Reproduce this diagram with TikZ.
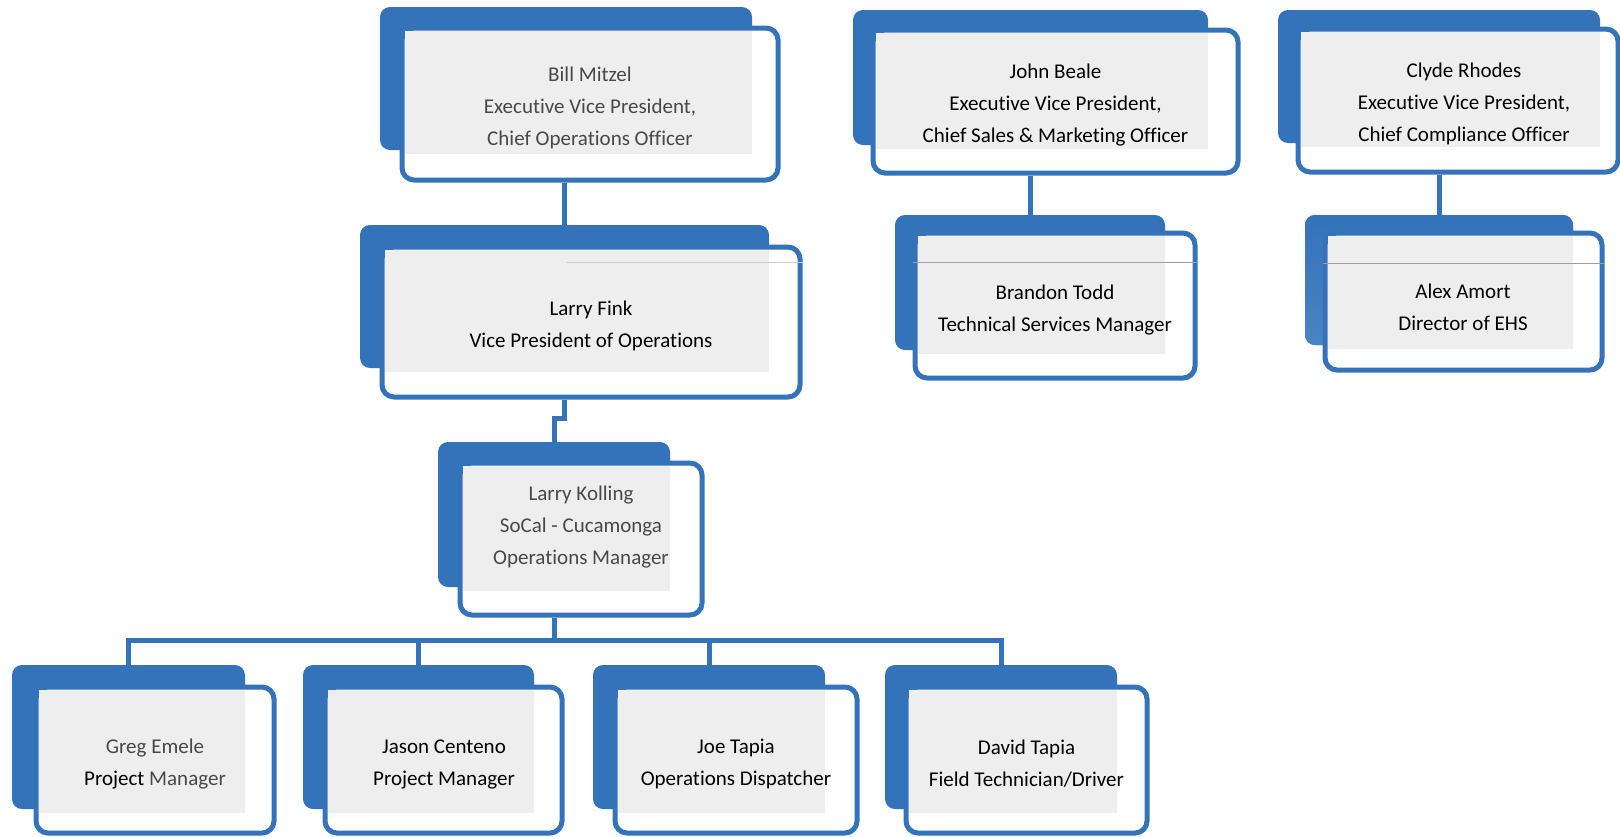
\documentclass[tikz,border=0pt]{standalone}
\usepackage{fontspec}
\setmainfont{Carlito}[Ligatures={NoCommon,NoContextual}]
\usetikzlibrary{fit,calc}
\definecolor{orgblue}{RGB}{52,114,185}
\definecolor{boxgray}{RGB}{238,238,238}
\definecolor{txtgray}{RGB}{72,72,72}
\tikzset{
  backbox/.style={fill=orgblue, draw=none, rounded corners=10pt, inner sep=0pt},
  frontbox/.style={fill=white, draw=orgblue, line width=5pt, rounded corners=12pt, inner sep=0pt},
  txt/.style={align=center, font=\fontsize{21}{32}\selectfont, inner sep=0pt, text=black},
  conn/.style={draw=orgblue, line width=5pt},
  sepline/.style={draw=gray!75, line width=1pt},
}
% #1 extra back style, #2 name, #3 back fit, #4 front fit, #5 text position, #6 text
\newcommand\orgcard[6][]{%
  \node[backbox, fit={#3}, #1] (#2B) {};
  \node[frontbox, fit={#4}] (#2) {};
  \fill[boxgray] ($(#2.north west)+(5,5)$) rectangle ($(#2B.south east)+(0,4)$);
  \node[txt] (#2T) at #5 {#6};
}
\begin{document}
\begin{tikzpicture}[x=1pt, y=-1pt]
\useasboundingbox (0,0) rectangle (1620,836);

\orgcard{bill}{(380,7) (752,150)}{(402,28) (778,180)}{(590,108)}{\textcolor{txtgray}{Bill Mitzel}\\\textcolor{txtgray}{Executive Vice President,}\\\textcolor{txtgray}{Chief Operations Officer}}
\orgcard{john}{(853,10) (1208,145)}{(873,30) (1238,173)}{(1055.5,105)}{John Beale\\Executive Vice President,\\Chief Sales \& Marketing Officer}
\orgcard{clyde}{(1278,10) (1600,143)}{(1298,29) (1618,172)}{(1464,104)}{Clyde Rhodes\\Executive Vice President,\\Chief Compliance Officer}
\orgcard{fink}{(360,225) (769,368)}{(382,247) (800,397)}{(591,326)}{Larry Fink\\Vice President of Operations}
\orgcard{brandon}{(895,215) (1165,350)}{(915,233) (1195,378)}{(1055,310)}{Brandon Todd\\Technical Services Manager}
\orgcard[top color=orgblue, bottom color=orgblue!88!white]{alex}{(1305,215) (1573,345)}{(1325,233) (1602,370)}{(1463,307)}{Alex Amort\\Director of EHS}
\orgcard{koll}{(438,442) (670,587)}{(460,463) (702,615)}{(581,527)}{\textcolor{txtgray}{Larry Kolling}\\\textcolor{txtgray}{SoCal - Cucamonga}\\\textcolor{txtgray}{Operations Manager}}
\orgcard{greg}{(12,665) (245,809)}{(36,687) (274,833)}{(155,764)}{\textcolor{txtgray}{Greg Emele}\\Project \textcolor{txtgray}{Manager}}
\orgcard{jason}{(303,665) (534,809)}{(325,687) (562,833)}{(444,764)}{Jason Centeno\\Project Manager}
\orgcard{joe}{(593,665) (825,809)}{(615,687) (857,833)}{(736,764)}{Joe Tapia\\Operations Dispatcher}
\orgcard{david}{(885,665) (1117,809)}{(906,687) (1147,833)}{(1026.5,764)}{David Tapia\\Field Technician/Driver}

% thin separator lines
\draw[sepline, draw=gray!40] (567,262) -- (fink.east |- 0,262);
\draw[sepline] (brandon.west |- 0,262) -- (brandon.east |- 0,262);
\draw[sepline] (alex.west |- 0,263) -- (alex.east |- 0,263);

% connectors
\coordinate (bar) at (0,640);
\draw[conn] (bill.south -| finkB.north) -- (finkB.north);
\draw[conn] (fink.south -| finkB.north) -- ++(0,19) -| (kollB.north);
\draw[conn] (john.south -| brandonB.north) -- (brandonB.north);
\draw[conn] (clyde.south -| alexB.north) -- (alexB.north);
\draw[conn] (koll.south -| kollB.north) -- (kollB.north |- bar) -| (gregB.north);
\draw[conn] (kollB.north |- bar) -| (jasonB.north);
\draw[conn] (kollB.north |- bar) -| (joeB.north);
\draw[conn] (kollB.north |- bar) -| (davidB.north);
\end{tikzpicture}
\end{document}
